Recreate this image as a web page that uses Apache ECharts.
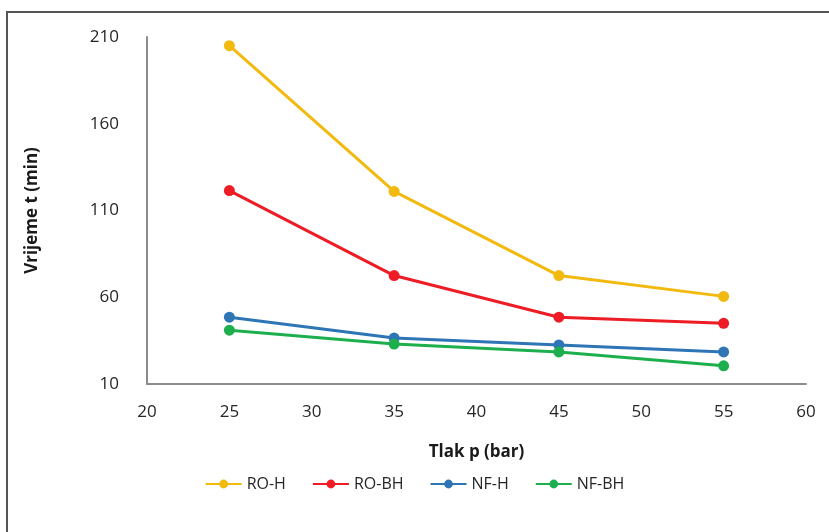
<!DOCTYPE html>
<html>
<head>
<meta charset="utf-8">
<script src="https://cdn.jsdelivr.net/npm/echarts@6/dist/echarts.min.js"></script>
<style>
html,body{margin:0;padding:0;background:#fff;}
#c{width:829px;height:532px;}
</style>
</head>
<body>
<div id="c"></div>
<script>
const pressures = [25, 35, 45, 55];
const seriesNames = ['RO-H', 'RO-BH', 'NF-H', 'NF-BH'];
const roH  = [205, 121, 72.5, 60.5];
const roBH = [121.5, 72.5, 48.5, 45];
const nfH  = [48.5, 36.5, 32.5, 28.5];
const nfBH = [41, 33, 28.5, 20.5];
const colors = ['#F2B90F', '#EE1C25', '#2E75B6', '#1DAF4E'];
const xTicks = {min: 20, max: 60, interval: 5};
const yTicks = {min: 10, max: 210, interval: 50};

const values = [roH, roBH, nfH, nfBH];
const chart = echarts.init(document.getElementById('c'), null, {renderer: 'canvas'});
const font = '"Open Sans", "Liberation Sans", sans-serif';
chart.setOption({
  animation: false,
  backgroundColor: '#fff',
  graphic: [{
    type: 'rect', shape: {x: 7, y: 12, width: 900, height: 600},
    style: {fill: 'none', stroke: '#555', lineWidth: 2}, silent: true
  }],
  grid: {left: 147, top: 37, right: 23, bottom: 148},
  xAxis: {
    type: 'value', min: xTicks.min, max: xTicks.max, interval: xTicks.interval,
    name: 'Tlak p (bar)', nameLocation: 'middle', nameGap: 60,
    nameTextStyle: {fontFamily: font, fontSize: 17, fontWeight: 'bold', color: '#1a1a1a'},
    axisLine: {show: true, lineStyle: {color: '#8c8c8c', width: 2}},
    axisTick: {show: false},
    splitLine: {show: false},
    axisLabel: {fontFamily: font, fontSize: 17, color: '#262626', margin: 20}
  },
  yAxis: {
    type: 'value', min: yTicks.min, max: yTicks.max, interval: yTicks.interval,
    name: 'Vrijeme t (min)', nameLocation: 'middle', nameGap: 106,
    nameTextStyle: {fontFamily: font, fontSize: 17, fontWeight: 'bold', color: '#1a1a1a'},
    axisLine: {show: true, lineStyle: {color: '#8c8c8c', width: 2}},
    axisTick: {show: false},
    splitLine: {show: false},
    axisLabel: {fontFamily: font, fontSize: 17, color: '#262626', margin: 28}
  },
  legend: {
    bottom: 35, left: 'center',
    itemWidth: 36, itemHeight: 11, itemGap: 26,
    textStyle: {fontFamily: font, fontSize: 16, color: '#262626'},
    data: seriesNames
  },
  series: seriesNames.map((n, i) => ({
    name: n, type: 'line',
    data: pressures.map((p, j) => [p, values[i][j]]),
    symbol: 'circle', symbolSize: 11,
    lineStyle: {width: 3, color: colors[i]},
    itemStyle: {color: colors[i]}
  }))
});
</script>
</body>
</html>
